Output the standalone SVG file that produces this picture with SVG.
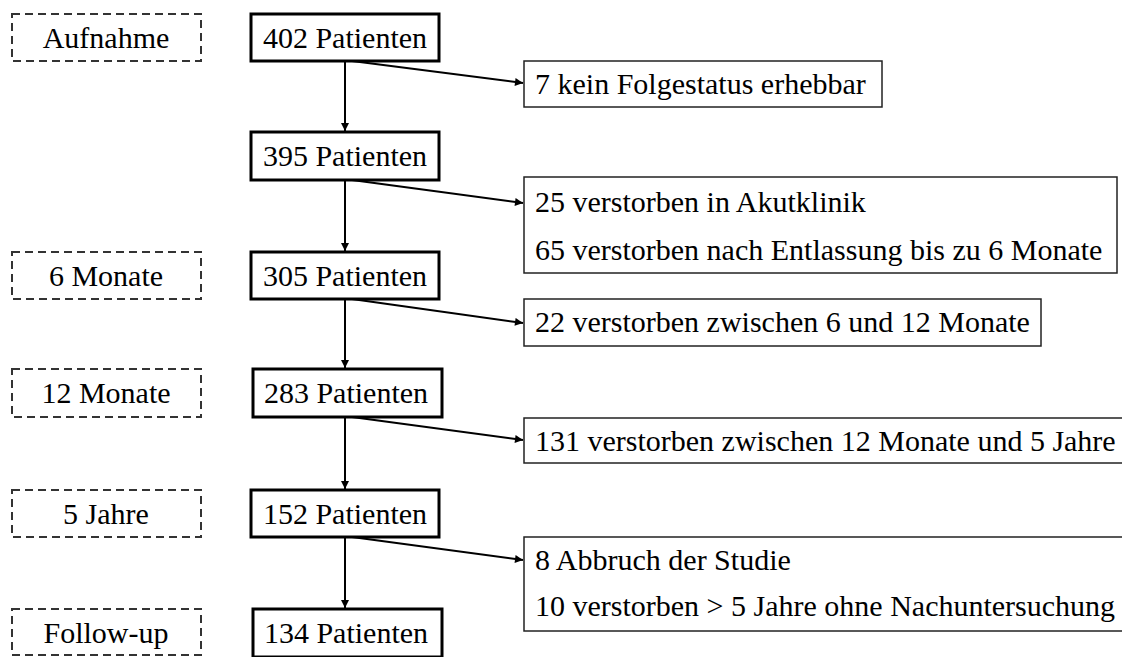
<svg xmlns="http://www.w3.org/2000/svg" width="1122" height="657" viewBox="0 0 1122 657" font-family="'Liberation Serif', 'Times New Roman', 'DejaVu Serif', serif">
<style>
text{font-family:'Liberation Serif','Times New Roman','DejaVu Serif',serif;font-size:30px;fill:#000}
.c{text-anchor:middle}
.stage{fill:#fff;stroke:#333;stroke-width:2;stroke-dasharray:8,5}
.pat{fill:#fff;stroke:#000;stroke-width:3}
.side{fill:#fff;stroke:#222;stroke-width:1.5}
.arr{stroke:#000;stroke-width:2;fill:none;marker-end:url(#ah)}
</style>
<defs>
<marker id="ah" viewBox="0 0 10 10" refX="10" refY="5" markerWidth="4.5" markerHeight="4" orient="auto" markerUnits="strokeWidth">
<path d="M0,0 L10,5 L0,10 z" fill="#000"/>
</marker>
</defs>
<rect width="1122" height="657" fill="#fff"/>
<g id="stage-aufnahme"><rect class="stage" x="12" y="14" width="189" height="47"/><text class="c" x="106" y="48" font-family="'Liberation Serif', serif">Aufnahme</text></g>
<g id="stage-6m"><rect class="stage" x="12" y="252" width="189" height="47"/><text class="c" x="106" y="286">6 Monate</text></g>
<g id="stage-12m"><rect class="stage" x="12" y="369" width="189" height="48"/><text class="c" x="106" y="403">12 Monate</text></g>
<g id="stage-5j"><rect class="stage" x="12" y="490" width="189" height="47"/><text class="c" x="106" y="524">5 Jahre</text></g>
<g id="stage-fu"><rect class="stage" x="12" y="609" width="189" height="46"/><text class="c" x="106" y="643">Follow-up</text></g>

<g id="p402"><rect class="pat" x="251" y="14" width="188" height="47"/><text class="c" x="345" y="48">402 Patienten</text></g>
<g id="p395"><rect class="pat" x="251" y="132" width="188" height="48"/><text class="c" x="345" y="166">395 Patienten</text></g>
<g id="p305"><rect class="pat" x="251" y="252" width="188" height="47"/><text class="c" x="345" y="286">305 Patienten</text></g>
<g id="p283"><rect class="pat" x="253" y="369" width="189" height="48"/><text class="c" x="346" y="403">283 Patienten</text></g>
<g id="p152"><rect class="pat" x="251" y="490" width="188" height="47"/><text class="c" x="345" y="524">152 Patienten</text></g>
<g id="p134"><rect class="pat" x="253" y="609" width="189" height="48"/><text class="c" x="346" y="643">134 Patienten</text></g>

<g id="ex7"><rect class="side" x="524" y="61" width="358" height="46"/><text x="535" y="94">7 kein Folgestatus erhebbar</text></g>
<g id="ex90"><rect class="side" x="524" y="177" width="593" height="96"/><text x="535" y="212">25 verstorben in Akutklinik</text><text x="535" y="260">65 verstorben nach Entlassung bis zu 6 Monate</text></g>
<g id="ex22"><rect class="side" x="524" y="299" width="517" height="47"/><text x="535" y="332">22 verstorben zwischen 6 und 12 Monate</text></g>
<g id="ex131"><rect class="side" x="524" y="418" width="610" height="45"/><text x="535" y="451">131 verstorben zwischen 12 Monate und 5 Jahre</text></g>
<g id="ex18"><rect class="side" x="524" y="537" width="610" height="94"/><text x="535" y="570">8 Abbruch der Studie</text><text x="535" y="616">10 verstorben &gt; 5 Jahre ohne Nachuntersuchung</text></g>

<g id="connectors">
<line class="arr" x1="345" y1="61" x2="345" y2="131"/>
<line class="arr" x1="352" y1="61" x2="523" y2="83"/>
<line class="arr" x1="345" y1="180" x2="345" y2="251"/>
<line class="arr" x1="352" y1="180" x2="523" y2="203"/>
<line class="arr" x1="345" y1="299" x2="345" y2="368"/>
<line class="arr" x1="352" y1="299" x2="523" y2="323"/>
<line class="arr" x1="345" y1="417" x2="345" y2="489"/>
<line class="arr" x1="352" y1="417" x2="523" y2="440"/>
<line class="arr" x1="345" y1="537" x2="345" y2="608"/>
<line class="arr" x1="352" y1="537" x2="523" y2="560"/>
</g>
</svg>
